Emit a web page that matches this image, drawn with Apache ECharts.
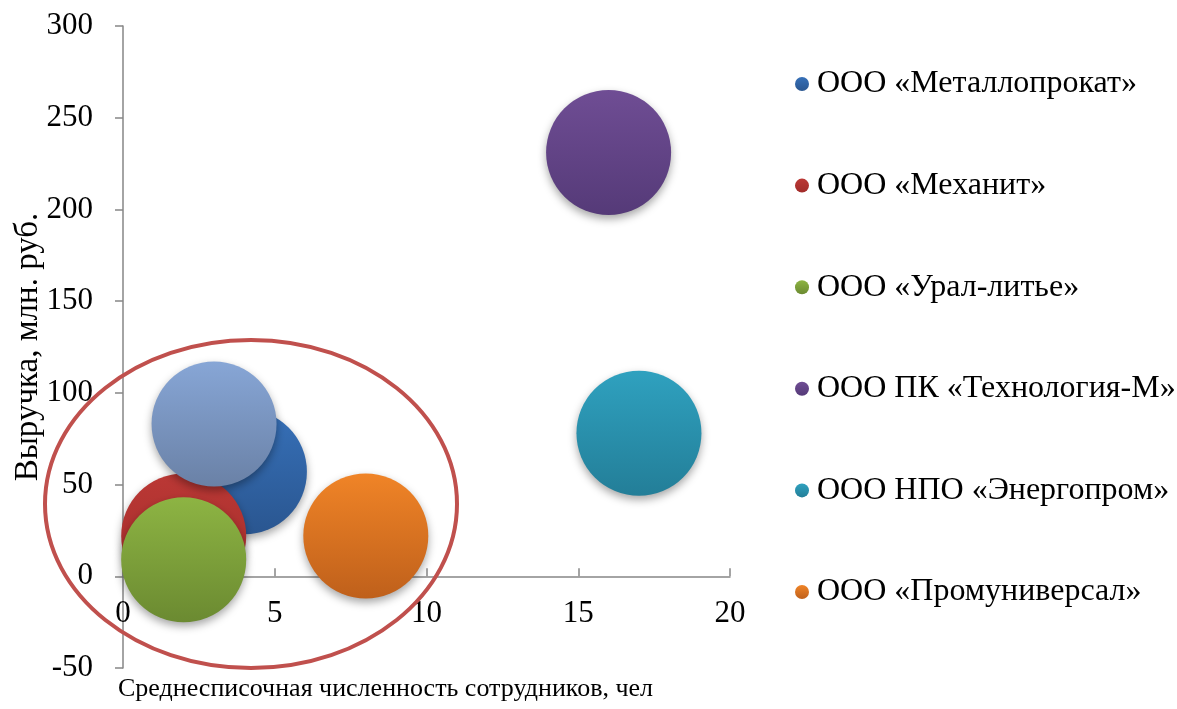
<!DOCTYPE html>
<html lang="ru">
<head>
    <meta charset="UTF-8">
    <script type="text/javascript" src="https://cdn.jsdelivr.net/npm/echarts@6/dist/echarts.min.js"></script>
    <title>Выручка и численность</title>
    <style type="text/css">
        html, body { margin: 0; padding: 0; background: #fff; }
        #chart { width: 1177px; height: 709px; }
    </style>
</head>
<body>
<div id="chart"></div>
<script type="text/javascript">
    // данные
    const companies = ['ООО «Металлопрокат»', 'ООО «Механит»', 'ООО «Урал-литье»',
        'ООО ПК «Технология-М»', 'ООО НПО «Энергопром»', 'ООО «Промуниверсал»'];
    const staff = [4, 2, 2, 16, 17, 8];        // чел
    const revenue = [57, 22, 9, 231, 78, 22];  // млн. руб.
    // лишний пузырь без подписи в легенде
    const extraPoint = [3, 83];
    const xTicks = [0, 5, 10, 15, 20];
    const yTicks = [-50, 0, 50, 100, 150, 200, 250, 300];

    const colors = [
        ['#3670b8', '#2a5690'],
        ['#bb3835', '#a12c2a'],
        ['#8db443', '#6b8a31'],
        ['#6f4d94', '#553a78'],
        ['#2fa1bf', '#237e98'],
        ['#f08427', '#bf601b']
    ];
    const extraColor = ['#87a6d6', '#6a81a6'];

    const font = 'Liberation Serif, Times New Roman, serif';
    const gridTop = 26, gridBottom = 41, H = 709;
    let chart = echarts.init(document.getElementById('chart'));

    // ось X проходит через y = 0
    const yMin = yTicks[0], yMax = yTicks[yTicks.length - 1];
    const zeroOffset = -(0 - yMin) / (yMax - yMin) * (H - gridTop - gridBottom);

    function grad(c) {
        return {
            type: 'linear', x: 0, y: 0, x2: 0, y2: 1,
            colorStops: [{offset: 0, color: c[0]}, {offset: 1, color: c[1]}]
        };
    }

    function bubble(name, point, c) {
        return {
            name: name,
            type: 'scatter',
            symbolSize: 125,
            data: [point],
            itemStyle: {
                color: grad(c),
                opacity: 1,
                shadowBlur: 8,
                shadowOffsetY: 4,
                shadowColor: 'rgba(0,0,0,0.35)'
            },
            emphasis: {disabled: true}
        };
    }

    let series = companies.map((n, i) => bubble(n, [staff[i], revenue[i]], colors[i]));
    series.push(bubble('extra', extraPoint, extraColor));

    let option = {
        animation: false,
        grid: {left: 123, right: 447, top: gridTop, bottom: gridBottom, containLabel: false, outerBoundsMode: 'none'},
        legend: {
            orient: 'vertical',
            left: 790,
            top: 63,
            data: companies,
            icon: 'circle',
            itemWidth: 14,
            itemHeight: 14,
            itemGap: 69.6,
            textStyle: {fontFamily: font, fontSize: 32, color: '#000', lineHeight: 32, padding: [0, 0, 0, 3]}
        },
        xAxis: {
            type: 'value',
            min: xTicks[0],
            max: xTicks[xTicks.length - 1],
            interval: 5,
            position: 'bottom',
            offset: zeroOffset,
            name: 'Среднесписочная численность сотрудников, чел',
            nameLocation: 'middle',
            nameGap: 100,
            nameMoveOverlap: false,
            nameTextStyle: {fontFamily: font, fontSize: 26, color: '#000', padding: [0, 82, 0, 0]},
            splitLine: {show: false},
            axisLine: {onZero: false, lineStyle: {color: '#868686', width: 1.5}},
            axisTick: {show: true, inside: true, length: 8, lineStyle: {color: '#868686', width: 1.5}},
            axisLabel: {fontFamily: font, fontSize: 31, color: '#000', margin: 22}
        },
        yAxis: {
            type: 'value',
            min: yMin,
            max: yMax,
            interval: 50,
            name: 'Выручка, млн. руб.',
            nameLocation: 'middle',
            nameGap: 78,
            nameMoveOverlap: false,
            nameTextStyle: {fontFamily: font, fontSize: 33, color: '#000'},
            splitLine: {show: false},
            axisLine: {show: true, lineStyle: {color: '#868686', width: 1.5}},
            axisTick: {show: true, length: 8, lineStyle: {color: '#868686', width: 1.5}},
            axisLabel: {fontFamily: font, fontSize: 31, color: '#000', margin: 30}
        },
        graphic: [{
            type: 'ellipse',
            z: 100,
            shape: {cx: 251, cy: 504, rx: 206, ry: 164},
            style: {fill: 'none', stroke: '#c0504d', lineWidth: 4}
        }],
        series: series
    };
    chart.setOption(option);
</script>
</body>
</html>
